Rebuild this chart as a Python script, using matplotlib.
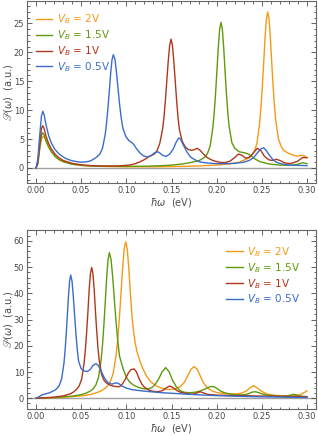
import matplotlib
matplotlib.use("Agg")
import matplotlib.pyplot as plt
from matplotlib.ticker import MultipleLocator, FormatStrFormatter

# ---- top panel: P(w) vs hbar*w ----
top_x_05 = [0, 0.002, 0.004, 0.006, 0.0075, 0.009, 0.011, 0.014, 0.017, 0.021, 0.025, 0.03, 0.035, 0.04,
            0.045, 0.05, 0.055, 0.06, 0.0646, 0.0676, 0.0706, 0.0736, 0.0766, 0.0781, 0.0796, 0.0811,
            0.0826, 0.0841, 0.0856, 0.0874, 0.0891, 0.0909, 0.0926, 0.0944, 0.0961, 0.0996, 0.103, 0.106,
            0.108, 0.111, 0.115, 0.119, 0.123, 0.127, 0.131, 0.135, 0.137, 0.14, 0.144, 0.148, 0.152,
            0.155, 0.158, 0.16, 0.163, 0.167, 0.171, 0.175, 0.18, 0.185, 0.19, 0.2, 0.21, 0.22, 0.23,
            0.236, 0.241, 0.245, 0.249, 0.252, 0.255, 0.258, 0.262, 0.266, 0.272, 0.28, 0.29, 0.3]
top_y_05 = [0, 1.5, 5.5, 9.0, 9.8, 9.2, 7.5, 5.6, 4.3, 3.2, 2.5, 1.9, 1.5, 1.25,
            1.1, 1.0, 1.05, 1.2, 1.6, 1.95, 2.4, 3.4, 5.8, 7.8, 10.3, 13.2,
            16.3, 18.7, 19.6, 18.8, 16.5, 13.6, 10.9, 8.6, 6.9, 5.4, 4.7, 4.4,
            4.1, 3.4, 2.6, 2.1, 1.9, 2.1, 2.6, 2.8, 2.6, 2.2, 2.0, 2.4, 3.3,
            4.4, 5.2, 5.0, 4.0, 2.8, 1.9, 1.5, 1.1, 0.95, 0.85, 0.75, 0.75, 0.8, 1.0,
            1.3, 1.8, 2.6, 3.3, 3.5, 3.0, 2.3, 1.5, 1.0, 0.7, 0.5, 0.45, 0.4]

top_x_1 = [0, 0.002, 0.004, 0.006, 0.0075, 0.009, 0.011, 0.014, 0.017, 0.021, 0.025, 0.03, 0.04, 0.05,
           0.06, 0.07, 0.08, 0.09, 0.1, 0.105, 0.11, 0.115, 0.12, 0.125, 0.1309, 0.134, 0.1371, 0.1402,
           0.14175, 0.1433, 0.14485, 0.1464, 0.14795, 0.1495, 0.15105, 0.1526, 0.15415, 0.1557, 0.15725,
           0.1588, 0.1619, 0.165, 0.1685, 0.172, 0.175, 0.1785, 0.182, 0.186, 0.19, 0.195, 0.2, 0.205,
           0.21, 0.215, 0.22, 0.224, 0.228, 0.232, 0.236, 0.24, 0.245, 0.249, 0.253, 0.258, 0.262, 0.266,
           0.27, 0.275, 0.28, 0.285, 0.29, 0.295, 0.3]
top_y_1 = [0, 1.0, 4.0, 6.8, 7.3, 6.8, 5.5, 4.2, 3.3, 2.4, 1.8, 1.3, 0.8, 0.55,
           0.42, 0.35, 0.33, 0.35, 0.45, 0.55, 0.75, 1.05, 1.45, 1.95, 2.4, 3.0, 4.3, 6.8,
           8.9, 11.8, 15.2, 18.5, 21.2, 22.3, 21.2, 18.4, 15.0, 11.6, 8.7,
           6.6, 4.6, 3.7, 3.2, 3.05, 3.15, 3.4, 3.0, 2.3, 1.75, 1.35, 1.1, 0.95,
           0.95, 1.2, 1.8, 2.4, 2.2, 1.7, 1.8, 2.5, 3.4, 3.0, 2.0, 1.4, 1.3, 1.5,
           1.3, 0.9, 0.75, 0.9, 1.2, 1.8, 1.8]

top_x_15 = [0, 0.002, 0.004, 0.006, 0.0075, 0.009, 0.011, 0.014, 0.017, 0.021, 0.025, 0.03, 0.04, 0.05,
            0.06, 0.08, 0.1, 0.12, 0.14, 0.15, 0.16, 0.17, 0.1808, 0.1868, 0.1898, 0.1928, 0.1958,
            0.1973, 0.1988, 0.2003, 0.2018, 0.2033, 0.2048, 0.2063, 0.2078, 0.2093, 0.2108, 0.2123,
            0.2138, 0.2168, 0.22, 0.225, 0.23, 0.234, 0.238, 0.243, 0.248, 0.255, 0.26, 0.27, 0.28,
            0.285, 0.29, 0.295, 0.3]
top_y_15 = [0, 0.8, 3.5, 5.7, 6.1, 5.7, 4.7, 3.6, 2.8, 2.0, 1.5, 1.1, 0.65, 0.45,
            0.35, 0.3, 0.28, 0.3, 0.4, 0.5, 0.65, 0.9, 1.3, 1.85, 2.5, 3.8, 7.0,
            9.55, 12.9, 16.8, 20.8, 24.0, 25.2, 24.0, 20.8, 16.8, 12.9, 9.6,
            7.2, 4.4, 3.4, 2.8, 2.65, 2.5, 2.1, 1.5, 1.1, 0.8, 0.65, 0.5, 0.45,
            0.5, 0.65, 0.9, 0.75]

top_x_2 = [0, 0.002, 0.004, 0.006, 0.008, 0.01, 0.012, 0.015, 0.018, 0.022, 0.026, 0.03, 0.04, 0.05,
           0.06, 0.08, 0.1, 0.12, 0.14, 0.16, 0.18, 0.2, 0.215, 0.225, 0.2325, 0.2385, 0.2415, 0.2445,
           0.2475, 0.249, 0.2505, 0.252, 0.2535, 0.255, 0.2565, 0.258, 0.2595, 0.261, 0.2625, 0.264,
           0.2655, 0.2685, 0.2715, 0.2745, 0.28, 0.285, 0.29, 0.294, 0.297, 0.3]
top_y_2 = [0, 0.6, 3.0, 5.0, 5.5, 5.1, 4.3, 3.4, 2.6, 1.9, 1.4, 1.1, 0.65, 0.45,
           0.35, 0.25, 0.2, 0.2, 0.22, 0.27, 0.35, 0.5, 0.7, 1.0, 1.5, 2.1, 2.8, 4.2,
           7.6, 10.3, 13.9, 18.0, 22.3, 25.7, 27.0, 25.7, 22.4, 18.2, 14.2, 10.7,
           8.1, 5.0, 3.7, 3.0, 2.5, 2.2, 2.05, 2.2, 2.1, 1.7]

# ---- bottom panel ----
bot_x_05 = [0, 0.003, 0.006, 0.009, 0.012, 0.015, 0.018, 0.021, 0.0234, 0.0259, 0.0284, 0.0309, 0.03215,
            0.0334, 0.03465, 0.0359, 0.03715, 0.0384, 0.03985, 0.0413, 0.04275, 0.0442, 0.04565, 0.0471,
            0.05, 0.0535, 0.0568, 0.06, 0.063, 0.0664, 0.069, 0.072, 0.075, 0.078, 0.081, 0.084, 0.087,
            0.0893, 0.092, 0.095, 0.1, 0.105, 0.11, 0.12, 0.13, 0.14, 0.15, 0.16, 0.18, 0.2, 0.22, 0.25,
            0.28, 0.3]
bot_y_05 = [0, 0.5, 1.2, 1.5, 1.8, 2.1, 2.6, 3.1, 3.8, 5.0, 7.5, 13.3, 18.1,
            24.25, 31.4, 38.8, 44.7, 47, 44.7, 38.8, 31.5, 24.5, 18.6, 14.2,
            11.2, 10.4, 10.2, 11.0, 12.5, 13.2, 12.5, 10.5, 8.2, 6.6, 5.7, 5.4, 5.7,
            5.9, 5.5, 4.7, 3.9, 3.4, 3.1, 2.7, 2.4, 2.1, 1.9, 1.7, 1.3, 1.0, 0.8, 0.55,
            0.4, 0.3]

bot_x_1 = [0, 0.01, 0.02, 0.03, 0.038, 0.042, 0.0451, 0.0478, 0.0506, 0.0533, 0.0547, 0.0561, 0.0575,
           0.0588, 0.0602, 0.0616, 0.063, 0.0644, 0.0657, 0.0671, 0.0685, 0.0699, 0.0726, 0.0754, 0.078,
           0.082, 0.086, 0.09, 0.093, 0.096, 0.099, 0.102, 0.105, 0.1085, 0.111, 0.114, 0.117, 0.12,
           0.125, 0.13, 0.135, 0.14, 0.144, 0.148, 0.152, 0.156, 0.16, 0.165, 0.17, 0.175, 0.178, 0.1816,
           0.185, 0.19, 0.2, 0.21, 0.22, 0.23, 0.24, 0.25, 0.26, 0.27, 0.28, 0.29, 0.3]
bot_y_1 = [0, 0.2, 0.4, 0.9, 1.7, 2.5, 3.5, 4.7, 7.4, 13.7, 18.8, 25.5, 33.2,
           41.2, 47.5, 49.9, 47.6, 41.5, 33.7, 26.1, 19.6, 14.6, 9.0, 6.8, 5.8,
           5.0, 4.6, 4.4, 4.5, 5.6, 7.4, 9.5, 10.9, 11.2, 10.2, 7.6, 5.5, 4.2,
           3.1, 2.6, 2.5, 2.9, 3.9, 4.7, 4.0, 2.9, 2.3, 1.9, 1.6, 1.6, 2.0, 2.5,
           2.1, 1.5, 1.2, 1.1, 1.0, 1.0, 0.9, 0.85, 0.8, 0.75, 0.7, 0.65, 0.6]

bot_x_15 = [0, 0.02, 0.04, 0.05, 0.055, 0.06, 0.0632, 0.0662, 0.0692, 0.0722, 0.0737, 0.0752, 0.0767,
            0.0782, 0.0797, 0.0812, 0.0831, 0.085, 0.0868, 0.0887, 0.0906, 0.0925, 0.0962, 0.1, 0.1037,
            0.108, 0.113, 0.118, 0.123, 0.128, 0.132, 0.136, 0.1395, 0.1436, 0.1475, 0.151, 0.155, 0.159,
            0.164, 0.17, 0.176, 0.182, 0.187, 0.191, 0.194, 0.197, 0.2, 0.204, 0.208, 0.215, 0.222, 0.23,
            0.235, 0.239, 0.2425, 0.246, 0.25, 0.256, 0.265, 0.272, 0.278, 0.282, 0.285, 0.288, 0.292,
            0.296, 0.3]
bot_y_15 = [0, 0.3, 0.8, 1.4, 1.9, 2.7, 3.6, 5.0, 8.0, 15.0, 20.8, 28.3, 37.0,
            45.8, 52.8, 55.6, 52.8, 45.8, 37.2, 28.7, 21.5, 16.0, 11.5, 8.0, 6.2,
            5.0, 4.2, 3.7, 3.5, 4.0, 5.3, 7.5, 10.0, 11.7, 10.0, 7.0, 4.6, 3.0,
            2.3, 2.1, 2.3, 2.8, 3.5, 4.2, 4.5, 4.4, 3.8, 2.8, 2.2, 1.6, 1.3, 1.3,
            1.7, 2.3, 2.5, 2.2, 1.7, 1.2, 0.9, 0.8, 0.9, 1.2, 1.5, 1.3, 0.9,
            0.7, 0.6]

bot_x_2 = [0, 0.02, 0.04, 0.05, 0.06, 0.065, 0.07, 0.074, 0.0783, 0.0818, 0.0853, 0.0888, 0.09055, 0.0923,
           0.09405, 0.0958, 0.09755, 0.0993, 0.10105, 0.1028, 0.1045, 0.1063, 0.108, 0.1096, 0.112, 0.115,
           0.118, 0.1226, 0.127, 0.1336, 0.14, 0.148, 0.155, 0.16, 0.1645, 0.168, 0.1715, 0.175, 0.1785,
           0.182, 0.1855, 0.19, 0.195, 0.2, 0.21, 0.22, 0.227, 0.232, 0.236, 0.2406, 0.245, 0.25, 0.256,
           0.265, 0.275, 0.285, 0.29, 0.294, 0.297, 0.3]
bot_y_2 = [0, 0.25, 0.6, 0.9, 1.4, 1.9, 2.5, 3.2, 4.3, 6.0, 9.3, 16.7, 22.8, 30.7,
           39.9, 49.3, 56.8, 59.7, 56.8, 49.3, 39.9, 31.0, 25.5, 21.5, 17.5, 14.2,
           11.5, 8.3, 6.3, 4.6, 3.7, 3.3, 3.6, 4.5, 6.2, 8.6, 11.0, 12.1, 11.0,
           8.4, 5.8, 3.9, 2.8, 2.2, 1.7, 1.6, 1.9, 2.6, 3.7, 4.8, 3.9, 2.6, 1.6,
           1.1, 0.9, 0.9, 1.1, 1.6, 2.2, 2.8]

labels = [r'$V_B$ = 2V', r'$V_B$ = 1.5V', r'$V_B$ = 1V', r'$V_B$ = 0.5V']
colors = ['#F59A16', '#5E9A0C', '#B2371A', '#3A6DC8']
grey = '#4a4a4a'


def style_axes(ax, ylim, ymaj, ymin):
    ax.axhline(0, color='#a0a0a0', lw=1.0, zorder=1)
    ax.set_xlim(-0.01, 0.31)
    ax.set_ylim(*ylim)
    ax.xaxis.set_major_locator(MultipleLocator(0.05))
    ax.xaxis.set_minor_locator(MultipleLocator(0.01))
    ax.xaxis.set_major_formatter(FormatStrFormatter('%.2f'))
    ax.yaxis.set_major_locator(MultipleLocator(ymaj))
    ax.yaxis.set_minor_locator(MultipleLocator(ymin))
    ax.tick_params(which='both', direction='in', top=True, right=True,
                   colors=grey, labelsize=6, width=0.6, pad=2)
    ax.tick_params(which='major', length=3.5)
    ax.tick_params(which='minor', length=1.8)
    for sp in ax.spines.values():
        sp.set_color('#666666')
        sp.set_linewidth(0.8)
    ax.set_xlabel(r'$\hbar\omega$  (eV)', fontsize=7, color=grey, labelpad=1)
    ax.set_ylabel(r'$\mathscr{P}(\omega)$  (a.u.)', fontsize=7, color=grey)
    ax.yaxis.set_label_coords(-0.043, 0.5)


fig = plt.figure(figsize=(3.18, 4.36), dpi=100)
ax1 = fig.add_axes([27 / 318, 1 - 183 / 436, 289 / 318, 181.5 / 436])
ax2 = fig.add_axes([27 / 318, 1 - 409 / 436, 289 / 318, 179.3 / 436])

lines1 = []
for xs, ys, c in zip([top_x_2, top_x_15, top_x_1, top_x_05],
                     [top_y_2, top_y_15, top_y_1, top_y_05], colors):
    lines1.append(ax1.plot(xs, ys, color=c, lw=1.0, zorder=3, solid_joinstyle='round')[0])
style_axes(ax1, (-2.6, 28.8), 5, 1)
ax1.legend(lines1, labels, loc='upper left', bbox_to_anchor=(0.03, 0.94), frameon=False,
           fontsize=7.5, handlelength=1.6, handletextpad=0.4, labelspacing=0.2,
           borderpad=0, borderaxespad=0, labelcolor='linecolor')

lines2 = []
for xs, ys, c in zip([bot_x_2, bot_x_15, bot_x_1, bot_x_05],
                     [bot_y_2, bot_y_15, bot_y_1, bot_y_05], colors):
    lines2.append(ax2.plot(xs, ys, color=c, lw=1.0, zorder=3, solid_joinstyle='round')[0])
style_axes(ax2, (-4.1, 64.3), 10, 2)
ax2.legend(lines2, labels, loc='upper left', bbox_to_anchor=(0.69, 0.915), frameon=False,
           fontsize=7.5, handlelength=1.6, handletextpad=0.4, labelspacing=0.2,
           borderpad=0, borderaxespad=0, labelcolor='linecolor')

fig.savefig('out.png', dpi=100)
